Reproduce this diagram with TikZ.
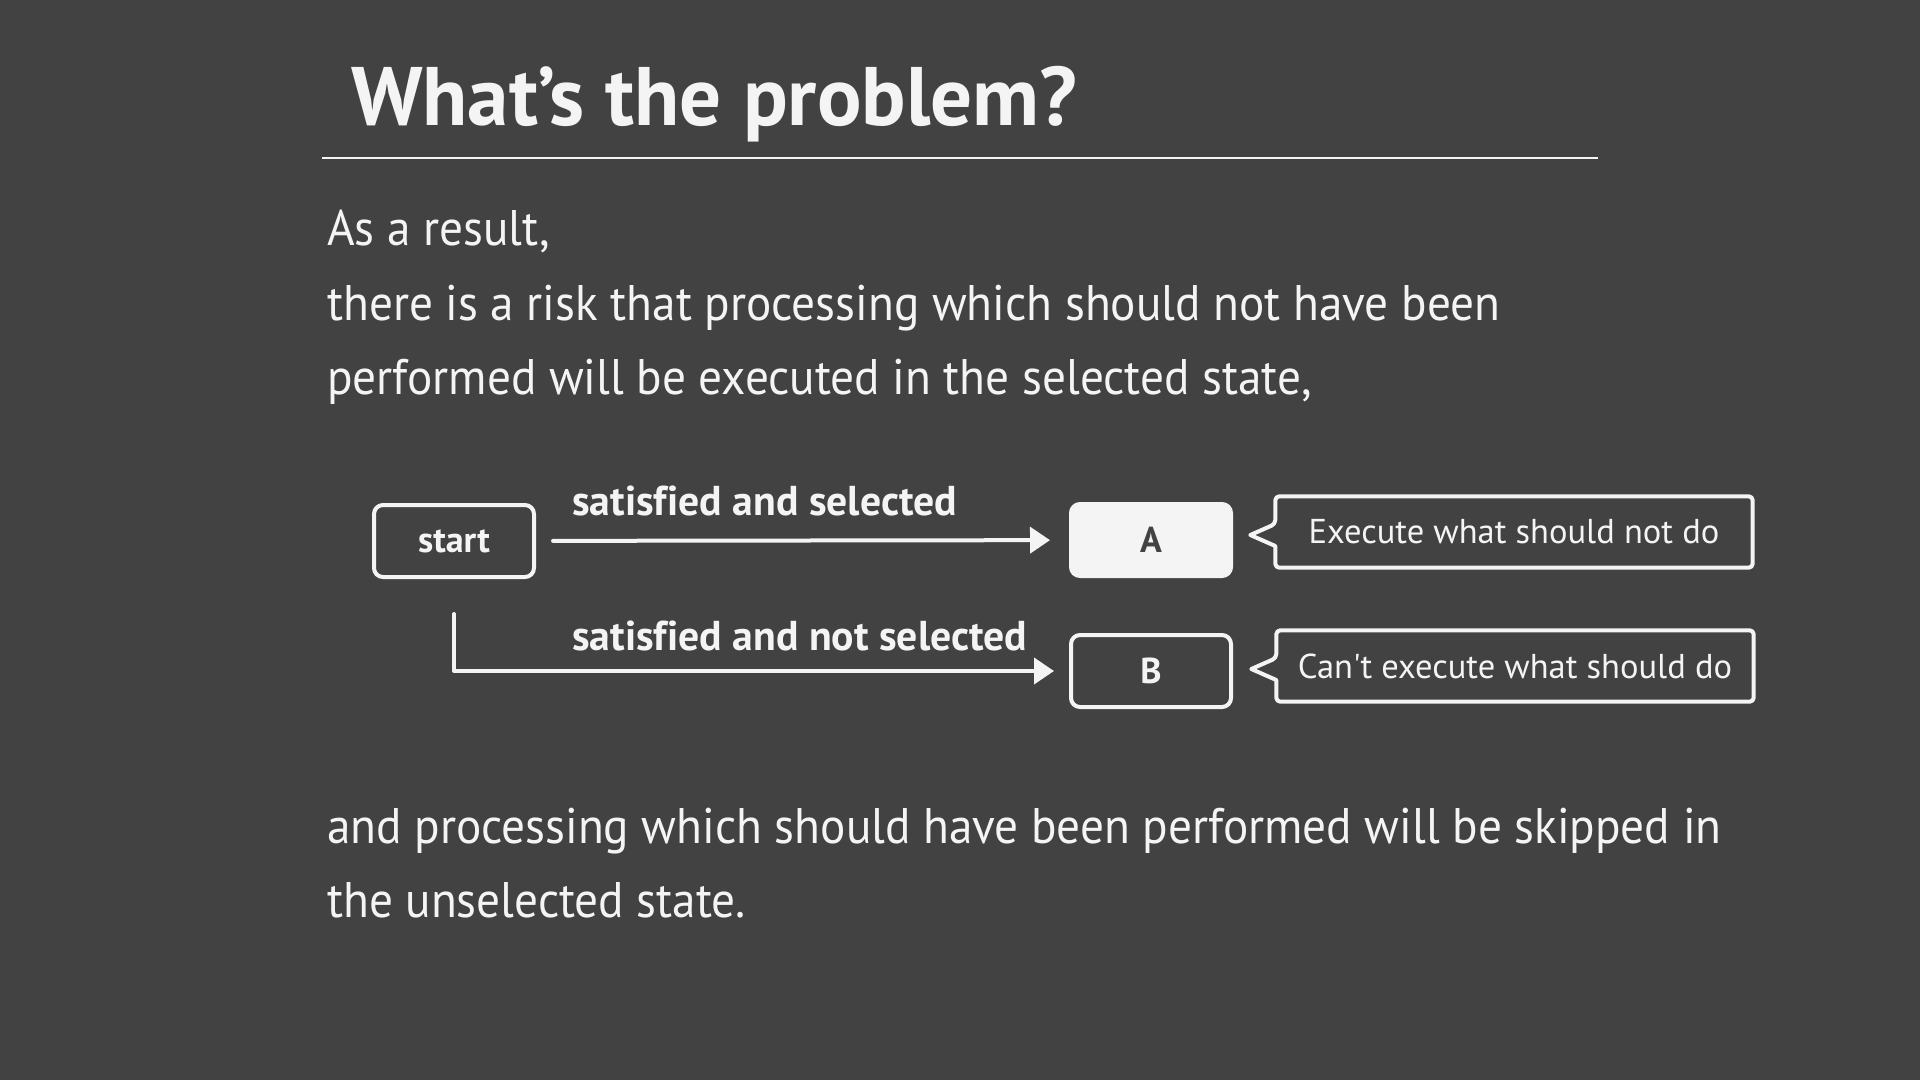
\documentclass[tikz,border=0pt]{standalone}
\usepackage{fontspec}
\setmainfont{PT Sans}[Ligatures={TeXOff,CommonOff}]
\newfontfamily\bodyfam{PT Sans}[Ligatures={TeXOff,CommonOff}, FakeStretch=0.945]
\usetikzlibrary{arrows.meta,calc}
\definecolor{board}{HTML}{424242}
\definecolor{chalk}{HTML}{F4F4F4}
\newcommand\ttlfont{\fontsize{83}{90}\selectfont\bfseries}
\newcommand\txtfont{\bodyfam\fontsize{50}{60}\selectfont}
\newcommand\lblfont{\fontsize{41.7}{48}\selectfont\bfseries}
\newcommand\boxfont{\fontsize{36}{42}\selectfont\bfseries}
\newcommand\notefont{\fontsize{34.5}{42}\selectfont}
\tikzset{
  chalkline/.style={draw=chalk, line width=4pt, line join=round, line cap=round},
  flowbox/.style={chalkline, rounded corners=9pt, minimum width=160pt, minimum height=72pt, inner sep=0pt, text=chalk, font=\boxfont},
  notebox/.style={minimum width=477pt, minimum height=71pt, inner sep=0pt, text=chalk, font=\notefont},
  txt/.style={anchor=base west, inner sep=0pt, text=chalk, font=\txtfont},
  lbl/.style={anchor=base west, inner sep=0pt, text=chalk, font=\lblfont},
  flow/.style={chalkline, -{Triangle[length=20pt,width=26pt]}}
}
% speech-bubble outline round a note node
\newcommand\bubble[1]{%
  \draw[chalkline, rounded corners=4pt] ($(#1.west)+(0,14)$) -- (#1.south west) -- (#1.south east)
    -- (#1.north east) -- (#1.north west) -- ($(#1.west)+(0,-8)$) [sharp corners] -- ++(-25,11) -- cycle;}
\begin{document}
\begin{tikzpicture}[x=1pt,y=-1pt]
  \useasboundingbox[fill=board] (0,0) rectangle (1920,1080);
  % heading
  \node[anchor=base west, inner sep=0pt, text=chalk, font=\ttlfont] (title) at (351,125) {What’s the problem?};
  \draw[draw=chalk, line width=2pt] (322,158) -- (1598,158);
  % text above
  \node[txt] (line1) at (327,245) {As a result,};
  \node[txt] (line2) at (327,320) {there is a risk that processing which should not have been};
  \node[txt] (line3) at (327,394) {performed will be executed in the selected state,};
  % flow
  \node[flowbox] (start) at (454,541) {start};
  \node[flowbox, fill=chalk, text=board] (A) at (1151,540) {A};
  \node[flowbox] (B) at (1151,671) {B};
  \coordinate (split) at (454,614);
  \draw[flow, shorten <=17pt, shorten >=19pt] (start) -- (A);
  \draw[flow, shorten >=15pt] (split) |- (B);
  \node[lbl] (sel) at (572,515) {satisfied and selected};
  \node[lbl] (nsel) at (572,650) {satisfied and not selected};
  % notes
  \node[notebox] (noteA) at (1514,532) {Execute what should not do};
  \node[notebox] (noteB) at (1515,666) {Can't execute what should do};
  \bubble{noteA}
  \bubble{noteB}
  % text below
  \node[txt] (line4) at (327,843) {and processing which should have been performed will be skipped in};
  \node[txt] (line5) at (327,917) {the unselected state.};
\end{tikzpicture}
\end{document}
